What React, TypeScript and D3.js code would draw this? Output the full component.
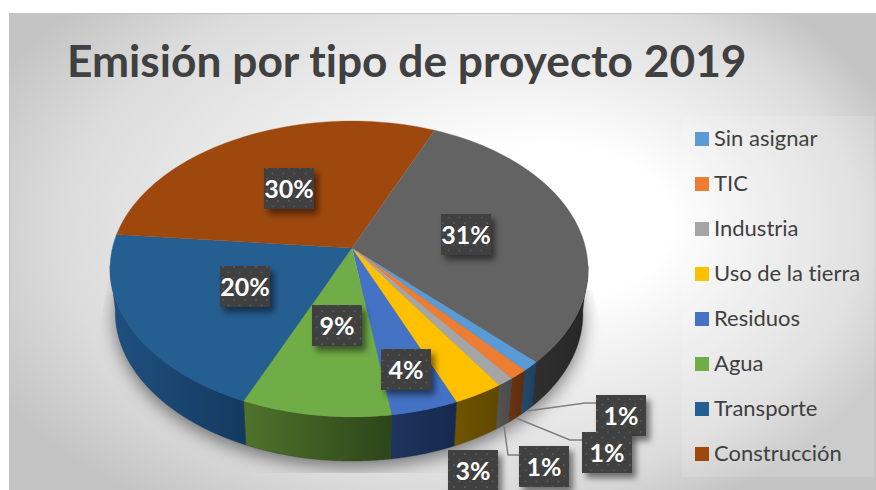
import React from "react";
import * as d3 from "d3";

const categories = ["Sin asignar", "TIC", "Industria", "Uso de la tierra", "Residuos", "Agua", "Transporte", "Construcción", "Energía"];
const values = [1.1, 1.1, 1.0, 3.0, 4.0, 8.8, 20.0, 30.0, 31.0];
const labels = ["1%", "1%", "1%", "3%", "4%", "9%", "20%", "30%", "31%"];
const topColors = ["#5B9BD5", "#ED7D31", "#A5A5A5", "#FFC000", "#4472C4", "#70AD47", "#255E91", "#9E480E", "#636363"];
const sideLight = ["#234a6c", "#6b3512", "#555555", "#6f5500", "#1e3560", "#4f732c", "#205080", "#5e2f10", "#303030"];
const sideDark = ["#1f3f5f", "#5e2d0e", "#4a4a4a", "#5f4800", "#17294d", "#2d4519", "#143a60", "#4a2508", "#262626"];
const title = "Emisión por tipo de proyecto 2019";

const W = 876, H = 490;
const apex = { x: 352, y: 248 };
const RIM_SHIFT = -3;
const B = 145, K = -0.142, A = 236.6, DEPTH = 44, BOTTOM_SCALE = 0.978;
const FONT = "Lato, 'Open Sans', sans-serif";

const rim = (t: number) => {
  const u = Math.sin(t), v = -Math.cos(t), w = 1 + K * v;
  return [apex.x + RIM_SHIFT * (1 - v * v) + (A * u) / w, apex.y + (B * v) / w] as [number, number];
};
const rimBottom = (t: number) => {
  const [x, y] = rim(t);
  return [apex.x + (x - apex.x) * BOTTOM_SCALE, y + DEPTH] as [number, number];
};
const sample = (a: number, b: number, f: (t: number) => [number, number]) =>
  d3.range(0, 61).map((i) => f(a + ((b - a) * i) / 60));

const lineGen = d3.line<[number, number]>();
const rad = (deg: number) => (deg * Math.PI) / 180;
const arcs = d3.pie<number>().sort(null).startAngle(rad(135)).endAngle(rad(495))(values);

const SIDE_MIN = rad(97), SIDE_MAX = rad(263);

// box top-left corners for the data labels, in order of categories
const labelBoxes: [number, number][] = [[596, 395], [582, 432], [519, 446], [448, 450], [381, 349], [312, 305], [220, 266], [264, 168], [441, 214]];
const leaders: ([number, number][] | null)[] = [
  [[527, 411], [585, 403], [596, 403]],
  [[516, 418], [570, 440], [582, 440]],
  [[504, 426], [508, 455], [519, 455]],
  null, null, null, null, null, null,
];
const BOX_W = 50, BOX_H = 41;
const legendY = d3.scalePoint<string>().domain(categories.slice(0, 8)).range([139, 454]);

export default function App() {
  const bottomOutline = lineGen(sample(0, Math.PI * 2, rimBottom)) + "Z";
  return (
    <svg width={W} height={H} viewBox={`0 0 ${W} ${H}`} style={{ position: "fixed", left: 0, top: 0, display: "block", background: "#fff", fontVariantLigatures: "none" }}>
      <defs>
        <radialGradient id="bg" gradientUnits="userSpaceOnUse" cx={0} cy={0} r={1} gradientTransform="translate(430 235) scale(500 320)" fx={0.32} fy={-0.05}>
          <stop offset="0" stopColor="#ffffff" />
          <stop offset="0.24" stopColor="#ffffff" />
          <stop offset="0.48" stopColor="#efefef" />
          <stop offset="0.8" stopColor="#dcdcdc" />
          <stop offset="1" stopColor="#c4c4c4" />
        </radialGradient>
        <filter id="blur" x="-20%" y="-20%" width="140%" height="140%">
          <feGaussianBlur stdDeviation="9" />
        </filter>
        <filter id="boxShadow" x="-30%" y="-30%" width="170%" height="170%">
          <feDropShadow dx="4" dy="5" stdDeviation="3" floodColor="#000" floodOpacity="0.5" />
        </filter>
        <clipPath id="shadowClip">
          <polygon points="110,272 92,365 92,473 610,473 610,360 592,290" />
        </clipPath>
        <pattern id="dots" width="11" height="11" patternUnits="userSpaceOnUse">
          <rect width="11" height="11" fill="#3f3f3f" />
          <circle cx="3" cy="3" r="1.1" fill="#575757" />
          <circle cx="8.5" cy="8.5" r="1.1" fill="#575757" />
        </pattern>
        {categories.map((c, i) => (
          <linearGradient key={c} id={`side${i}`} x1="0" x2="1" y1="0" y2="0">
            <stop offset="0" stopColor={sideLight[i]} />
            <stop offset="1" stopColor={sideDark[i]} />
          </linearGradient>
        ))}
      </defs>

      <rect x={9} y={13} width={W - 9} height={H - 13} fill="url(#bg)" />
      <path d={`M9.5 ${H}V13.5H${W}`} fill="none" stroke="#c2c2c2" strokeWidth={1} />

      <text x={67} y={77} fontFamily={FONT} fontWeight={700} fontSize={44.3} fill="#404040">{title}</text>

      <rect x={682} y={116} width={192} height={361} fill="#ffffff" fillOpacity={0.15} />
      {categories.slice(0, 8).map((c, i) => (
        <g key={c}>
          <rect x={695} y={legendY(c)! - 7} width={14} height={14} fill={topColors[i]} />
          <text x={714} y={legendY(c)! + 7} fontFamily={FONT} fontSize={22} fill="#404040">{c}</text>
        </g>
      ))}

      <g clipPath="url(#shadowClip)">
        <path d={bottomOutline} fill="#000" fillOpacity={0.5} filter="url(#blur)" transform="translate(0 6)" />
      </g>

      {arcs.map((a, i) => {
        const pieces: [number, number][] = [[a.startAngle, a.endAngle], [a.startAngle - 2 * Math.PI, a.endAngle - 2 * Math.PI]];
        return pieces.map(([s, e], k) => {
          const from = Math.max(s, SIDE_MIN), to = Math.min(e, SIDE_MAX);
          if (from >= to) return null;
          const pts = [...sample(from, to, rim), ...sample(to, from, rimBottom)];
          return <path key={`${i}-${k}`} d={lineGen(pts) + "Z"} fill={`url(#side${i})`} stroke={sideDark[i]} strokeWidth={0.4} />;
        });
      })}

      {arcs.map((a, i) => {
        const pts: [number, number][] = [[apex.x, apex.y], ...sample(a.startAngle, a.endAngle, rim)];
        return <path key={i} d={lineGen(pts) + "Z"} fill={topColors[i]} stroke={topColors[i]} strokeWidth={0.3} />;
      })}

      {leaders.map((l, i) => l && <path key={i} d={lineGen(l)!} fill="none" stroke="#7f7f7f" strokeWidth={1.5} />)}

      {labels.map((label, i) => {
        const [x, y] = labelBoxes[i];
        return (
          <g key={i}>
            <rect x={x} y={y} width={BOX_W} height={BOX_H} fill="url(#dots)" filter="url(#boxShadow)" />
            <text x={x + BOX_W / 2} y={y + 29.5} textAnchor="middle" fontFamily={FONT} fontWeight={700} fontSize={25} fill="#ffffff">{label}</text>
          </g>
        );
      })}
    </svg>
  );
}
